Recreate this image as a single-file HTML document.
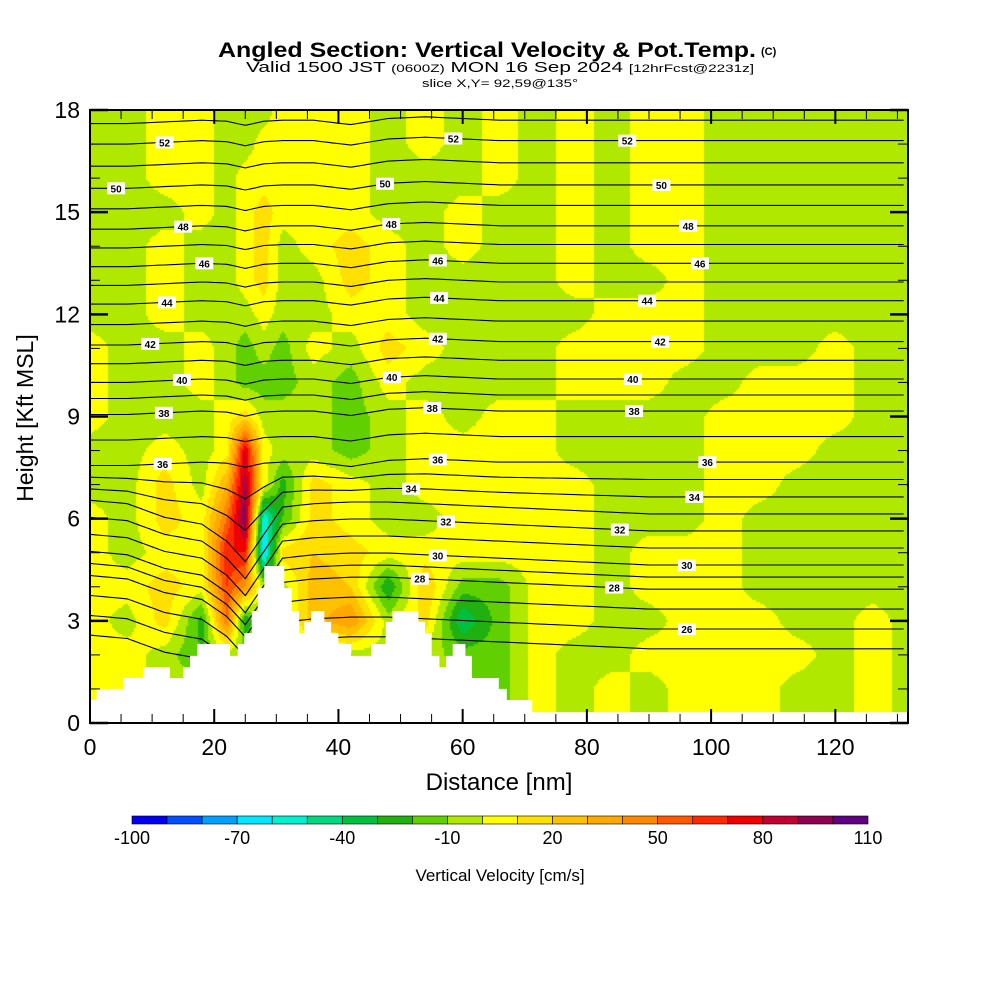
<!DOCTYPE html>
<html><head><meta charset="utf-8"><style>
html,body{margin:0;padding:0;background:#fff;}
#wrap{position:relative;width:1000px;height:1000px;overflow:hidden;font-family:"Liberation Sans",sans-serif;}
#field{position:absolute;left:90px;top:110px;}
#ov{position:absolute;left:0;top:0;}
</style></head><body>
<div id="wrap">
<canvas id="field" width="818" height="613"></canvas>
<svg id="ov" width="1000" height="1000" xmlns="http://www.w3.org/2000/svg">
<g font-family="Liberation Sans, sans-serif" fill="#000">
<text x="218" y="57" font-size="21" font-weight="bold" textLength="538" lengthAdjust="spacingAndGlyphs">Angled Section: Vertical Velocity &amp; Pot.Temp.</text>
<text x="761" y="55" font-size="11" font-weight="bold">(C)</text>
<text x="246" y="72" font-size="15" textLength="508" lengthAdjust="spacingAndGlyphs">Valid 1500 JST <tspan font-size="11">(0600Z)</tspan> MON 16 Sep 2024 <tspan font-size="11">[12hrFcst@2231z]</tspan></text>
<text x="422" y="87" font-size="11" textLength="156" lengthAdjust="spacingAndGlyphs">slice X,Y= 92,59@135°</text>
</g>
<g id="contours"></g>
<g id="terrain"></g>
<g id="labels"></g>
<g id="axes"></g>
<g id="cbar"></g>
</svg>
</div>
<script>
// ---- data ----
const colNm = [0,6,12,18,22,25,28,31,36,42,48,54,60,66,72,78,84,90,96,102,108,114,120,126,132];
const rowKft = [18,17,16,15,14,13,12,11,10,9,8,7,6,5,4,3,2,1,0];
const Y=5, G=-5, D=-15, O=15;
const wRows = [
[G,G,Y,Y,G,G,G,Y,Y,Y,G,Y,G,Y,G,Y,G,Y,Y,G,G,G,G,G,G],
[G,G,Y,Y,G,G,Y,Y,Y,Y,G,Y,G,Y,G,Y,G,Y,Y,G,G,G,G,G,G],
[G,G,Y,Y,G,Y,Y,Y,Y,Y,G,G,G,Y,G,Y,G,Y,Y,G,G,G,G,G,G],
[G,G,G,Y,G,Y,O,Y,Y,Y,G,G,Y,G,G,Y,G,Y,Y,G,G,G,G,G,G],
[G,G,Y,G,G,Y,O,G,Y,O,Y,G,Y,G,G,Y,G,Y,Y,G,G,G,G,G,G],
[G,G,Y,G,G,Y,O,G,G,O,Y,G,G,G,G,Y,G,G,Y,G,G,G,G,G,G],
[G,G,Y,G,G,G,Y,G,G,Y,Y,G,G,G,G,G,Y,Y,Y,G,G,G,G,G,G],
[Y,G,G,Y,G,D,G,D,Y,G,O,Y,G,G,G,Y,Y,Y,Y,G,G,G,Y,G,G],
[Y,G,G,Y,G,D,D,D,G,D,Y,G,G,G,G,Y,Y,Y,G,G,Y,Y,Y,G,G],
[Y,G,G,G,Y,O,G,G,G,D,G,Y,G,Y,Y,G,G,G,G,Y,Y,Y,Y,G,G],
[G,G,Y,G,Y,80,Y,G,G,D,G,Y,Y,Y,Y,G,G,G,G,Y,Y,Y,G,G,G],
[G,G,O,G,30,90,Y,-25,O,Y,G,Y,Y,Y,Y,Y,G,G,G,Y,Y,G,G,G,G],
[Y,G,O,Y,50,100,-60,-20,O,Y,G,G,Y,Y,Y,Y,G,G,G,Y,G,G,G,G,G],
[Y,G,Y,Y,70,70,-70,O,20,O,Y,Y,Y,Y,Y,Y,G,Y,Y,Y,G,G,G,G,G],
[Y,Y,O,Y,60,40,G,G,25,20,-30,20,D,D,Y,Y,G,Y,Y,Y,G,G,G,G,G],
[Y,G,O,-25,50,-30,G,G,25,40,G,15,-40,D,Y,Y,G,G,Y,Y,Y,G,G,Y,G],
[Y,Y,G,-20,G,G,G,G,G,G,G,G,D,D,Y,G,G,Y,Y,Y,Y,Y,G,Y,G],
[Y,Y,G,G,G,G,G,G,G,G,G,G,G,D,Y,G,Y,G,Y,Y,Y,G,G,Y,G],
[Y,Y,G,G,G,G,G,G,G,G,G,G,G,D,Y,G,Y,G,Y,Y,Y,G,G,Y,G]
];
const binColors = ["#0000f0","#0050ff","#00a0ff","#00e8ff","#00f0d0","#00d880","#00c040","#20b010","#60d000","#b0e800","#ffff00","#ffe000","#ffc000","#ffa800","#ff8800","#ff5800","#ff2800","#f00000","#c00030","#900050","#600080"];
const cbarTicks = [-100,-70,-40,-10,20,50,80,110];
const terrX = [0,1.07,5.37,8.59,12.88,15.03,16.1,17.28,22.54,23.78,24.85,26.03,27.0,28.07,31.29,32.47,33.66,34.51,35.59,37.73,38.81,39.99,42.03,45.25,47.61,48.68,52.87,53.95,55.02,56.25,57.33,58.4,60.44,61.51,65.81,67.1,71.2];
const terrH = [0.675,1.0,1.32,1.64,1.32,1.64,1.97,2.32,1.97,2.32,2.64,3.29,3.96,4.61,3.96,3.29,2.64,2.97,3.29,2.97,2.64,2.32,1.97,2.32,2.97,3.29,2.97,2.64,1.97,1.64,1.97,2.32,1.97,1.32,1.0,0.675,0.32];
const thetaLevels = [24,26,28,30,32,34,36,38,40,42,44,46,48,50,52,54];
const thetaBaseKft = [1.6,2.76,3.93,4.64,5.64,6.64,7.66,9.16,10.1,11.2,12.4,13.5,14.6,15.8,17.1,18.3];
const lowDisp = [0.4,0.3,-0.1,-0.3,-0.8,-1.4,-0.6,0.2,0.3,0.35,0.35,0.3,0.25,0.2,0.15,0.1,0.05,0,0,0,0,0,0,0,0];
const highDisp = [-0.1,-0.1,-0.05,0,-0.03,-0.15,-0.03,0,0,-0.13,0.05,0.1,0.05,0,0,0,0,0,0,0,0,0,0,0,0];
const labelLevels = [52,52,52,50,50,50,48,48,48,46,46,46,44,44,44,42,42,42,40,40,40,38,38,38,36,36,36,34,34,32,32,30,30,28,28,26];
const labelNm = [12,58.5,86.5,4.2,47.5,92,15,48.5,96.3,18.4,56,98.2,12.4,56.2,89.7,9.7,56,91.8,14.8,48.6,87.4,11.9,55.1,87.6,11.7,56,99.4,51.7,97.3,57.3,85.3,56,96.1,53.1,84.4,96.1];
const xTicks = [0,20,40,60,80,100,120];
const yTicks = [0,3,6,9,12,15,18];

// ---- scales ----
const X0=90,X1=908,Y0=723,Y1=110, XMAX=131.7, YMAX=18;
const sx = nm => X0 + nm/XMAX*(X1-X0);
const sy = k => Y0 - k/YMAX*(Y0-Y1);
const NS="http://www.w3.org/2000/svg";
function mk(tag, attrs, parent){const e=document.createElementNS(NS,tag);for(const k in attrs)e.setAttribute(k,attrs[k]);parent.appendChild(e);return e;}
function interp1(xs, ys, x){ if(x<=xs[0])return ys[0]; for(let i=0;i<xs.length-1;i++){ if(x<=xs[i+1]){const t=(x-xs[i])/(xs[i+1]-xs[i]);return ys[i]+t*(ys[i+1]-ys[i]);}} return ys[ys.length-1]; }

// ---- field ----
const cv=document.getElementById('field'), ctx=cv.getContext('2d');
const rk = rowKft.slice().reverse(), rowsUp = wRows.slice().reverse();
const step=2;
for(let py=0;py<613;py+=step){
  const k = (613-(py+step/2))/613*YMAX;
  let j=0; while(j<rk.length-2 && k>rk[j+1]) j++;
  const tv=Math.min(1,Math.max(0,(k-rk[j])/(rk[j+1]-rk[j])));
  for(let px=0;px<818;px+=step){
    const nm=(px+step/2)/818*XMAX;
    const a=interp1(colNm,rowsUp[j],nm), b=interp1(colNm,rowsUp[j+1],nm);
    const v=a+(b-a)*tv;
    let bi=Math.floor((v+100)/10); bi=Math.max(0,Math.min(20,bi));
    ctx.fillStyle=binColors[bi]; ctx.fillRect(px,py,step,step);
  }
}

// ---- theta contours ----
function thetaHeight(L, nm){
  const base=interp1(thetaLevels,thetaBaseKft,L);
  const w=Math.min(1,Math.max(0,(L-33)/3));
  return base+(1-w)*interp1(colNm,lowDisp,nm)+w*interp1(colNm,highDisp,nm);
}
const cg=document.getElementById('contours');
for(let L=25;L<=53;L++){
  let d='';
  for(let nm=0;nm<=XMAX+0.01;nm+=1){ d+=(nm===0?'M':'L')+sx(nm).toFixed(1)+','+sy(thetaHeight(L,nm)).toFixed(1); }
  const p=mk('path',{d:d,fill:'none',stroke:'#000','stroke-width':1.1},cg);
  
  
}

// ---- terrain ----
const tg=document.getElementById('terrain');
let td='M'+sx(0)+','+Y0;
for(let i=0;i<terrX.length;i++){
  const x0=sx(terrX[i]), x1=sx(i<terrX.length-1?terrX[i+1]:XMAX), y=sy(terrH[i]);
  td+=' L'+x0.toFixed(1)+','+y.toFixed(1)+' L'+x1.toFixed(1)+','+y.toFixed(1);
}
td+=' L'+X1+','+Y0+' Z';
const tp=mk('path',{d:td,fill:'#fff',stroke:'none'},tg);



// ---- labels ----
const lg=document.getElementById('labels');
for(let i=0;i<labelLevels.length;i++){
  const x=sx(labelNm[i]), y=sy(thetaHeight(labelLevels[i],labelNm[i]));
  const g=mk('g',{},lg);
  
  
  mk('rect',{x:x-9,y:y-6,width:18,height:12,fill:'#fff'},g);
  const t=mk('text',{x:x,y:y+4,'font-size':10,'font-weight':'bold','text-anchor':'middle','font-family':'Liberation Sans, sans-serif'},g);
  t.textContent=labelLevels[i];
}

// ---- axes ----
const ag=document.getElementById('axes');
mk('rect',{x:X0,y:Y1,width:X1-X0,height:Y0-Y1,fill:'none',stroke:'#000','stroke-width':2},ag);
for(let nm=0;nm<=130;nm+=5){
  const x=sx(nm), L=(nm%20===0)?14:9;
  mk('line',{x1:x,y1:Y0,x2:x,y2:Y0-L,stroke:'#000','stroke-width':(nm%20===0)?2:1},ag);
  mk('line',{x1:x,y1:Y1,x2:x,y2:Y1+L,stroke:'#000','stroke-width':(nm%20===0)?2:1},ag);
}
for(let k=0;k<=18;k++){
  const y=sy(k), L=(k%3===0)?18:10;
  mk('line',{x1:X0,y1:y,x2:X0+L,y2:y,stroke:'#000','stroke-width':(k%3===0)?2.5:1},ag);
  mk('line',{x1:X1,y1:y,x2:X1-L,y2:y,stroke:'#000','stroke-width':(k%3===0)?2.5:1},ag);
}
xTicks.forEach(v=>{const t=mk('text',{x:sx(v),y:755,'font-size':23,'text-anchor':'middle','font-family':'Liberation Sans, sans-serif'},ag);t.textContent=v;
  
  });
yTicks.forEach(v=>{const t=mk('text',{x:80,y:sy(v)+8,'font-size':23,'text-anchor':'end','font-family':'Liberation Sans, sans-serif'},ag);t.textContent=v;
  
  });
const xt=mk('text',{x:499,y:790,'font-size':24,'text-anchor':'middle','font-family':'Liberation Sans, sans-serif'},ag);xt.textContent='Distance [nm]';


const yt=mk('text',{x:0,y:0,'font-size':23,'text-anchor':'middle','font-family':'Liberation Sans, sans-serif',transform:'translate(33,418) rotate(-90)'},ag);yt.textContent='Height [Kft MSL]';



// ---- colorbar ----
const cb=document.getElementById('cbar');
const CB0=132,CB1=868,bw=(CB1-CB0)/binColors.length;
binColors.forEach((c,i)=>{const r=mk('rect',{x:CB0+i*bw,y:816,width:bw,height:8,fill:c,stroke:'#000','stroke-width':0.6},cb);
  
  });
cbarTicks.forEach(v=>{const t=mk('text',{x:CB0+(v+100)/10*bw,y:844,'font-size':18,'text-anchor':'middle','font-family':'Liberation Sans, sans-serif'},cb);t.textContent=v;
  
  });
const ct=mk('text',{x:500,y:881,'font-size':17,'text-anchor':'middle','font-family':'Liberation Sans, sans-serif'},cb);ct.textContent='Vertical Velocity [cm/s]';


</script>
</body></html>
